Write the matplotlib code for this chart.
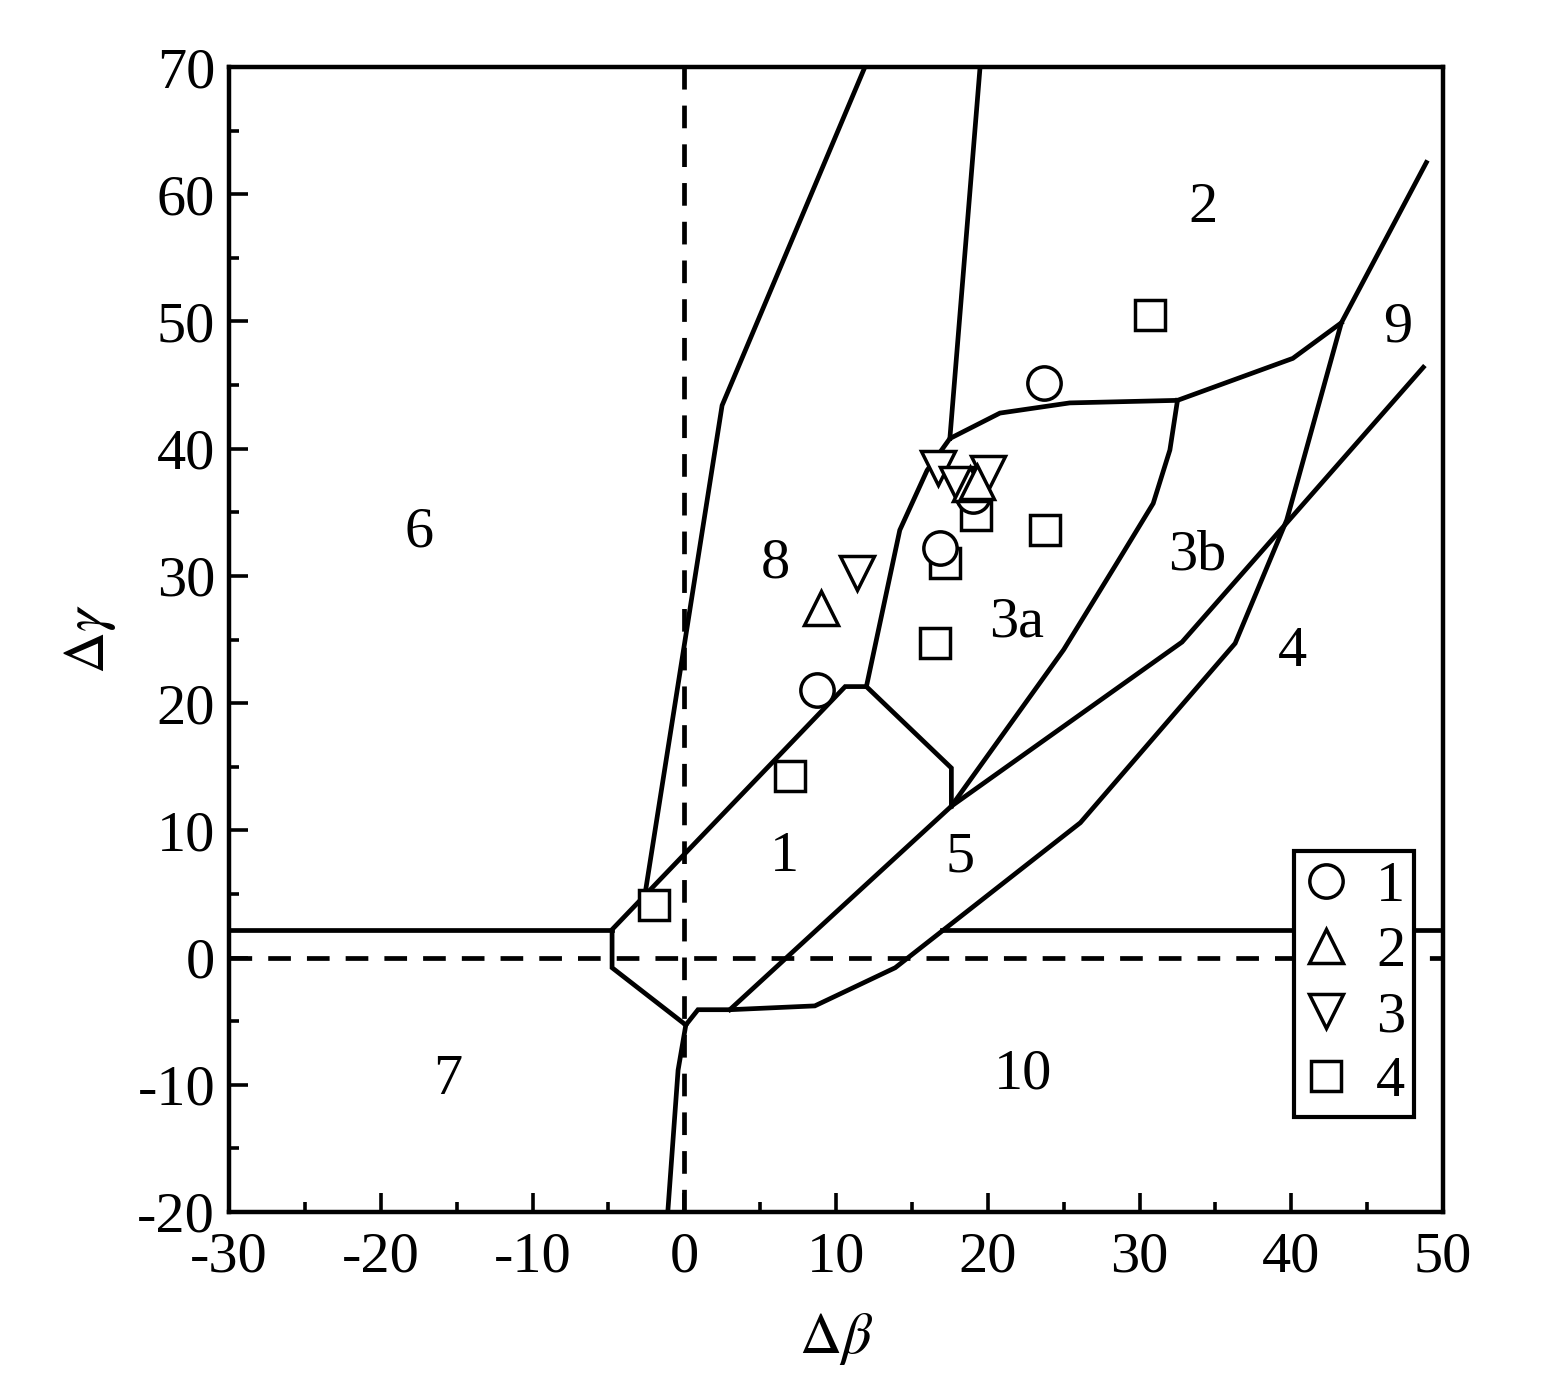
import matplotlib
matplotlib.use("Agg")
import matplotlib.pyplot as plt
from matplotlib.lines import Line2D

plt.rcParams["font.family"] = ["Liberation Serif", "DejaVu Serif"]
plt.rcParams["mathtext.fontset"] = "stix"
plt.rcParams["axes.unicode_minus"] = False

# region boundary polylines (delta beta, delta gamma)
left_curve_x = [-1.07, -0.41, 0.1]
left_curve_y = [-19.7, -8.85, -5.3]

octagon_x = [0.1, -4.76, -4.76, 10.6, 12.0, 17.6, 17.6]
octagon_y = [-5.3, -0.8, 2.2, 21.3, 21.3, 14.9, 11.9]

hline_left_x = [-30, -4.76]
hline_right_x = [17.0, 50]
hline_y = 2.2

b86_x = [-2.6, 2.49, 11.9]
b86_y = [4.9, 43.4, 70]

b82_x = [17.5, 19.49]
b82_y = [40.8, 70]

b3a_x = [12.0, 14.2, 16.0, 17.5, 20.8, 25.4, 32.5, 40.1, 43.3]
b3a_y = [21.3, 33.6, 38.3, 40.8, 42.8, 43.6, 43.8, 47.1, 49.9]

b10_x = [0.1, 0.9, 3.0, 8.6, 13.9, 26.1, 36.3, 39.7, 43.3, 48.9]
b10_y = [-5.3, -4.1, -4.1, -3.8, -0.8, 10.6, 24.7, 34.4, 49.9, 62.5]

b15_x = [3.0, 17.6, 32.8, 48.7]
b15_y = [-4.1, 11.9, 24.8, 46.4]

b3b_x = [17.6, 25.0, 28.5, 30.9, 32.0, 32.5]
b3b_y = [11.9, 24.2, 31.0, 35.7, 39.9, 43.8]

# sample points
s1_x = [23.7, 16.85, 8.75, 19.0]
s1_y = [45.2, 32.2, 21.0, 36.3]
s2_x = [9.0, 18.8, 19.3]
s2_y = [27.5, 37.2, 37.4]
s3_x = [16.7, 11.4, 20.0, 18.0]
s3_y = [38.5, 30.2, 38.1, 37.2]
s4_x = [30.7, 23.8, 19.2, 17.2, 16.5, 6.97, -2.0]
s4_y = [50.5, 33.6, 34.8, 31.0, 24.7, 14.3, 4.1]

region_labels = ["6", "8", "2", "9", "3a", "3b", "4", "1", "5", "7", "10"]
region_x = [-17.5, 6.0, 34.2, 47.0, 21.9, 33.8, 40.1, 6.6, 18.2, -15.6, 22.3]
region_y = [33.4, 31.0, 58.9, 49.5, 26.3, 31.6, 24.0, 7.9, 7.9, -9.6, -9.2]

fig = plt.figure(figsize=(15.54, 14), dpi=100)
ax = fig.add_axes([0.1474, 0.1343, 0.7812, 0.8178])

lw = 3.4
kw = dict(color="black", lw=lw, solid_joinstyle="miter", zorder=2)
ax.plot(left_curve_x, left_curve_y, **kw)
ax.plot(octagon_x, octagon_y, **kw)
ax.plot(hline_left_x, [hline_y, hline_y], **kw)
ax.plot(hline_right_x, [hline_y, hline_y], **kw)
ax.plot(b86_x, b86_y, **kw)
ax.plot(b82_x, b82_y, **kw)
ax.plot(b3a_x, b3a_y, **kw)
ax.plot(b10_x, b10_y, **kw)
ax.plot(b15_x, b15_y, **kw)
ax.plot(b3b_x, b3b_y, **kw)

# dashed zero lines
ax.axhline(0, color="black", lw=lw, dashes=(4.8, 3.4), zorder=1)
ax.axvline(0, color="black", lw=lw, dashes=(4.8, 3.4), zorder=1)

mk = dict(linestyle="none", markerfacecolor="white", markeredgecolor="black",
          markeredgewidth=2.5)
ax.plot(s4_x, s4_y, marker="s", markersize=21, zorder=3, **mk)
ax.plot(s1_x, s1_y, marker="o", markersize=24, zorder=4, **mk)
ax.plot(s3_x, s3_y, marker="v", markersize=25, zorder=5, **mk)
ax.plot(s2_x, s2_y, marker="^", markersize=25, zorder=6, **mk)

for lab, x, y in zip(region_labels, region_x, region_y):
    ax.text(x, y, lab, fontsize=42, ha="center", va="center", zorder=7)

ax.set_xlim(-30, 50)
ax.set_ylim(-20, 70)
ax.set_xticks(range(-30, 51, 10))
ax.set_yticks(range(-20, 71, 10))
ax.set_xticks(range(-25, 50, 10), minor=True)
ax.set_yticks(range(-15, 70, 10), minor=True)
ax.tick_params(which="both", direction="in", width=2.6, labelsize=42)
ax.tick_params(which="major", length=14)
ax.tick_params(which="minor", length=7)
ax.tick_params(axis="x", pad=14)
ax.tick_params(axis="y", pad=10)
for s in ax.spines.values():
    s.set_linewidth(3.2)

ax.set_xlabel(r"$\Delta\beta$", fontsize=42, labelpad=20)
ax.set_ylabel(r"$\Delta\gamma$", fontsize=42, labelpad=14)

handles = [
    Line2D([], [], marker="o", markersize=24, **mk),
    Line2D([], [], marker="^", markersize=25, **mk),
    Line2D([], [], marker="v", markersize=25, **mk),
    Line2D([], [], marker="s", markersize=21, **mk),
]
leg = ax.legend(handles, ["1", "2", "3", "4"], loc="lower right",
                bbox_to_anchor=(0.976, 0.083), fontsize=42, frameon=True,
                fancybox=False, framealpha=1, edgecolor="black",
                handlelength=0.8, handletextpad=0.45, labelspacing=0.21,
                borderpad=0.15, borderaxespad=0)
leg.get_frame().set_linewidth(3.0)
leg.set_zorder(10)

fig.savefig("out.png", dpi=100)
